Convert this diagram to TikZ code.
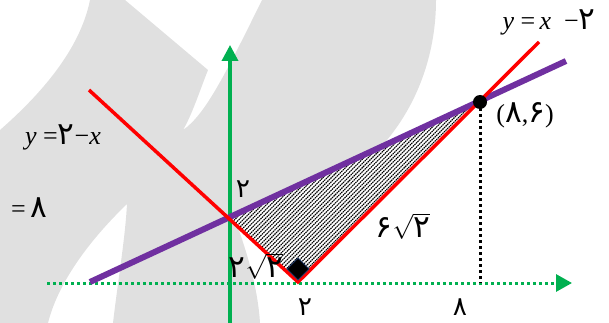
\documentclass[tikz,border=0pt]{standalone}
\usepackage{fontspec}
\setmainfont{Liberation Serif}
\newfontfamily\fa[Script=Arabic,Scale=1.2]{DejaVu Sans}
\usetikzlibrary{arrows.meta}
\definecolor{axgreen}{HTML}{00B050}
\definecolor{lred}{HTML}{FF0000}
\definecolor{lpurple}{HTML}{7030A0}
\definecolor{wmgray}{HTML}{E0E0E0}
\definecolor{navy}{HTML}{1F3864}
\newcommand{\fd}[1]{{\fa #1}}
\begin{document}
\begin{tikzpicture}[x=1pt,y={(0pt,-1pt)},
  redline/.style={draw=lred,line width=3.5pt},
  purpleline/.style={draw=lpurple,line width=6pt},
  yaxis/.style={draw=axgreen,line width=3.5pt,-{Triangle[width=16pt,length=16pt]}},
  xaxis/.style={draw=axgreen,line width=3pt,dash pattern=on 3pt off 3pt,-{Triangle[width=17pt,length=16pt]}},
  blackdots/.style={draw=black,line width=3pt,dash pattern=on 3pt off 3pt},
  hatch/.style={draw=black,line width=1.1pt,dash pattern=on 1.5pt off 0.7pt},
  lab/.style={inner sep=0pt,font=\fontsize{26}{31}\selectfont},
  dig/.style={inner sep=0pt,font=\fontsize{22}{26}\selectfont\fa}]
\useasboundingbox (0,0) rectangle (609,323);
% watermark
\fill[wmgray] (90,0) -- (125,0) -- (208,70) .. controls (200,90) and (192,115) .. (183,130)
  .. controls (205,115) and (225,75) .. (262,0) -- (436,0)
  .. controls (436,50) and (420,100) .. (387,140) -- (375,160) -- (300,200) -- (236,222)
  .. controls (248,255) and (258,290) .. (260,323) -- (113,323)
  .. controls (118,280) and (125,240) .. (127,204)
  .. controls (100,230) and (60,275) .. (48,323) -- (0,323) -- (0,130)
  .. controls (40,95) and (80,50) .. (90,0) -- cycle;
% key points
\coordinate (A) at (230,218);
\coordinate (V) at (298,282);
\coordinate (P) at (480,102);
\coordinate (Pfoot) at (480,283);
\coordinate (ybot) at (230,323);
\coordinate (ytop) at (230,45);
\coordinate (xs) at (47,283);
\coordinate (xe) at (572,283);
\coordinate (redL) at (89,90);
\coordinate (redR) at (539,42);
\coordinate (purL) at (90,282);
\coordinate (purR) at (566,61);
% hatched triangle
\begin{scope}
  \clip (A) -- (V) -- (P) -- cycle;
  \fill[white] (A) -- (V) -- (P) -- cycle;
  \foreach \c in {446,450.2,...,590} \draw[hatch] (220,{\c-220}) -- (490,{\c-490});
\end{scope}
% axes
\draw[xaxis] (xs) -- (xe);
\draw[yaxis] (ybot) -- (ytop);
\draw[blackdots] (P) -- (Pfoot);
% lines
\draw[purpleline] (purL) -- (purR);
\draw[redline] (redL) -- (V) -- (redR);
% right angle mark
\filldraw[fill=black,draw=navy,line width=0.8pt] (298,280) -- (287,269) -- (298,258) -- (309,269) -- cycle;
\fill[black] (P) circle (7pt);
% labels
\node[lab] (l1) at (549,22) {\textit{y} =\,\textit{x}\ \ −\fd{۲}};
\node[lab] (l2) at (525,115) {(\fd{۸},\fd{۶})};
\node[lab] (l3) at (63,137) {\textit{y} =\fd{۲}−\textit{x}};
\node[lab] (l4) at (29,208) {=\,\fd{۸}};
\node[dig] (l5) at (243,189) {۲};
\node[lab] (l6) at (256,266) {\fd{۲}$\sqrt{\hbox{\fa ۲}}$};
\node[lab] (l7) at (403,226) {\fd{۶}$\sqrt{\hbox{\fa ۲}}$};
\node[dig,anchor=south] (l8) at (305,316) {۲};
\node[dig,anchor=south] (l9) at (460,316) {۸};
\end{tikzpicture}
\end{document}
